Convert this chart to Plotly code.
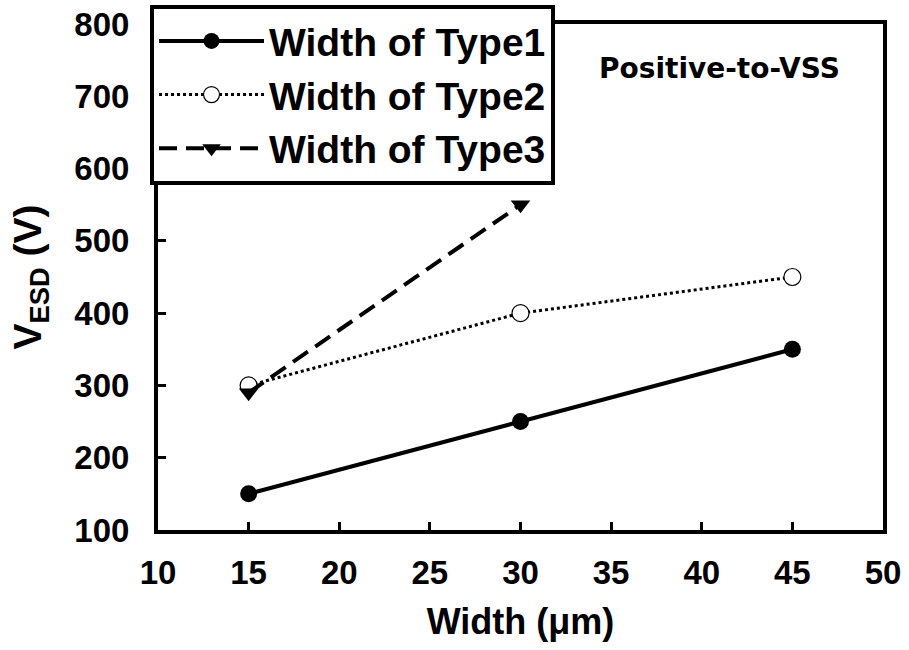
import plotly.graph_objects as go

x_width = [15, 30, 45]
type1 = [150, 250, 350]
type2 = [300, 400, 450]
x_type3 = [15, 30]
type3 = [290, 550]

FONT = "Liberation Sans, Arial, sans-serif"
FONT2 = "DejaVu Sans, sans-serif"

fig = go.Figure()
fig.add_trace(go.Scatter(x=x_width, y=type1, name="<b>Width of Type1</b>", mode="lines+markers",
                         line=dict(color="black", width=4, dash="solid"),
                         marker=dict(symbol="circle", size=17, color="black")))
fig.add_trace(go.Scatter(x=x_width, y=type2, name="<b>Width of Type2</b>", mode="lines+markers",
                         line=dict(color="black", width=3, dash="dot"),
                         marker=dict(symbol="circle", size=17, color="white", line=dict(color="black", width=1.2))))
fig.add_trace(go.Scatter(x=x_type3, y=type3, name="<b>Width of Type3</b>", mode="lines+markers",
                         line=dict(color="black", width=4, dash="18px,9px"),
                         marker=dict(symbol="triangle-down", size=17, color="black")))

fig.add_annotation(x=0.775, y=0.913, xref="paper", yref="paper", text="<b>Positive-to-VSS</b>",
                   showarrow=False, font=dict(family=FONT2, size=28, color="black"),
                   xanchor="center", yanchor="middle")

axis_common = dict(showgrid=False, zeroline=False, showline=True, linecolor="black", linewidth=4,
                   mirror=True, ticks="inside", ticklen=8, tickwidth=3, tickcolor="black",
                   tickfont=dict(family=FONT, size=33, color="black"))

fig.update_xaxes(range=[10, 50], tickvals=list(range(10, 55, 5)),
                 ticktext=[f"<b>{v}</b>" for v in range(10, 55, 5)],
                 ticklabelstandoff=10,
                 title=dict(text="<b>Width (μm)</b>", font=dict(family=FONT, size=36, color="black"), standoff=20),
                 **axis_common)
fig.update_yaxes(range=[100, 800], tickvals=list(range(100, 900, 100)),
                 ticktext=[f"<b>{v}</b>" for v in range(100, 900, 100)],
                 ticklabelstandoff=18,
                 title=dict(text="<b>V<sub>ESD</sub> (V)</b>", font=dict(family=FONT, size=39, color="black"), standoff=22),
                 **axis_common)

fig.update_layout(
    width=909, height=650,
    margin=dict(l=158, r=26, t=24, b=120, autoexpand=False),
    plot_bgcolor="white", paper_bgcolor="white",
    font=dict(family=FONT, color="black"),
    showlegend=True,
    legend=dict(x=-0.011, y=1.0375, xanchor="left", yanchor="top",
                bgcolor="white", bordercolor="black", borderwidth=4,
                font=dict(family=FONT, size=39, color="black"),
                itemwidth=105),
)

fig.write_html("out.html")
